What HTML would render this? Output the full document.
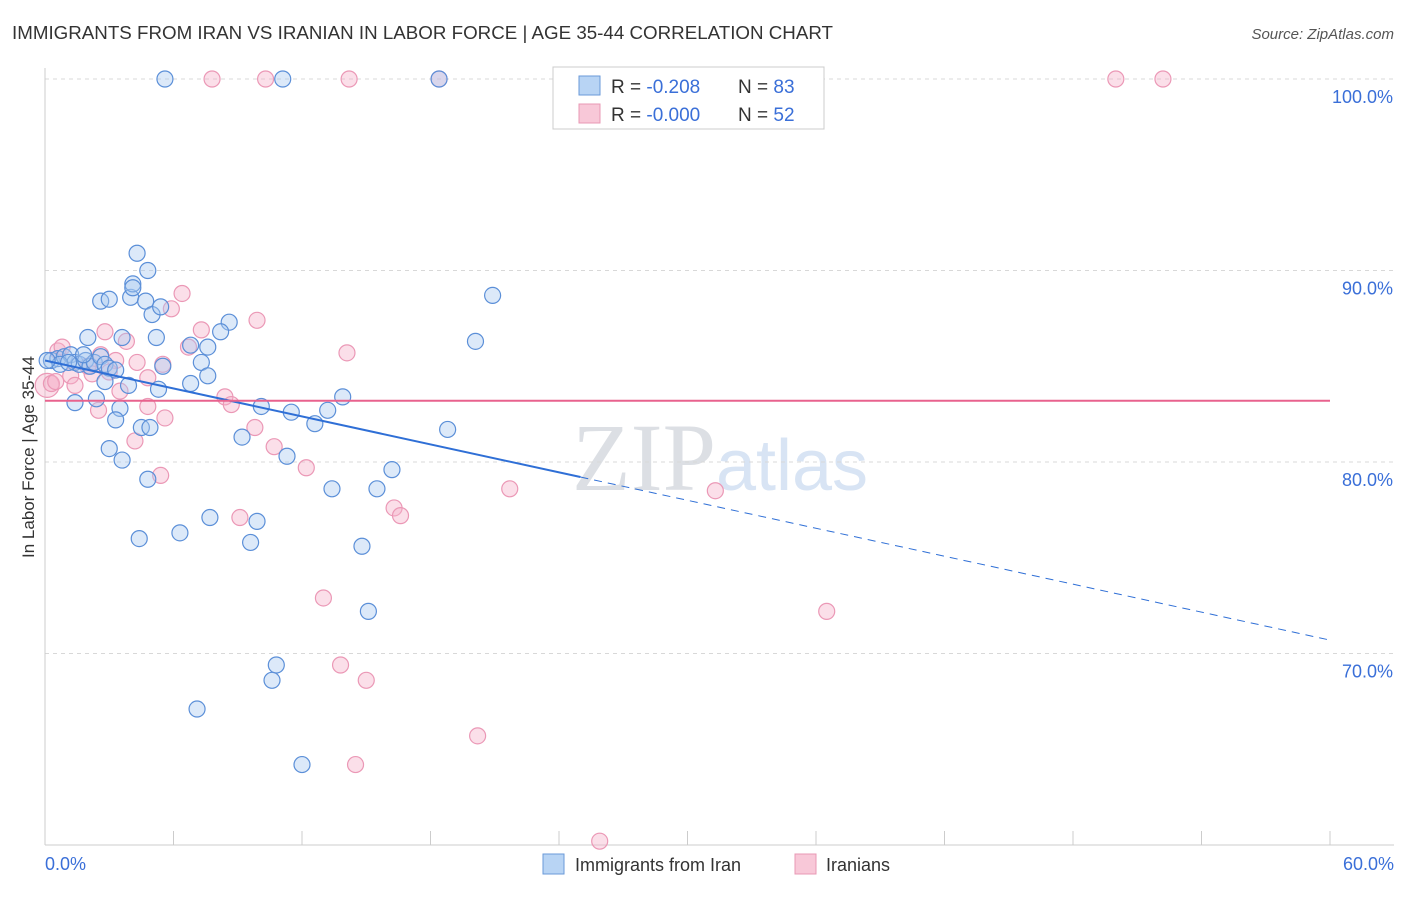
<!DOCTYPE html>
<html><head><meta charset="utf-8">
<style>
body{margin:0;background:#fff;font-family:"Liberation Sans",sans-serif;}
svg text{font-family:"Liberation Sans",sans-serif;}
</style></head>
<body>
<svg id="chart" width="1406" height="892" viewBox="0 0 1406 892" xmlns="http://www.w3.org/2000/svg">
<text x="12" y="39" font-size="18" fill="#333" textLength="821" lengthAdjust="spacingAndGlyphs">IMMIGRANTS FROM IRAN VS IRANIAN IN LABOR FORCE | AGE 35-44 CORRELATION CHART</text>
<text x="1394" y="39" font-size="15" fill="#555" font-style="italic" text-anchor="end">Source: ZipAtlas.com</text>
<text x="720" y="490" font-size="96" fill="#e4e8ee" text-anchor="middle" font-family="Liberation Serif"><tspan font-family="Liberation Serif" fill="#dcdfe4">ZIP</tspan><tspan font-family="Liberation Sans" fill="#d8e4f4" font-size="72">atlas</tspan></text>
<g id="grid"></g>
<g id="axes"></g>
<g id="pts"></g>
<g id="trend"></g>
<text transform="translate(34,457) rotate(-90)" font-size="17" fill="#333" text-anchor="middle">In Labor Force | Age 35-44</text>
<text x="45" y="870" font-size="18" fill="#3a6fd8">0.0%</text>
<text x="1394" y="870" font-size="18" fill="#3a6fd8" text-anchor="end">60.0%</text>
<g>
<rect x="553" y="67" width="271" height="62" fill="#fff" stroke="#ccc"/>
<rect x="579" y="76" width="21" height="19" fill="#b8d4f4" stroke="#6a9ad8"/>
<rect x="579" y="104" width="21" height="19" fill="#f8c8d8" stroke="#e898b4"/>
<text x="611" y="93" font-size="19" fill="#333">R = <tspan fill="#3a6fd8">-0.208</tspan></text>
<text x="738" y="93" font-size="19" fill="#333">N = <tspan fill="#3a6fd8">83</tspan></text>
<text x="611" y="121" font-size="19" fill="#333">R = <tspan fill="#3a6fd8">-0.000</tspan></text>
<text x="738" y="121" font-size="19" fill="#333">N = <tspan fill="#3a6fd8">52</tspan></text>
</g>
<g>
<rect x="543" y="854" width="21" height="20" fill="#b8d4f4" stroke="#6a9ad8"/>
<text x="575" y="871" font-size="18" fill="#333">Immigrants from Iran</text>
<rect x="795" y="854" width="21" height="20" fill="#f8c8d8" stroke="#e898b4"/>
<text x="826" y="871" font-size="18" fill="#333">Iranians</text>
</g>
</svg>
<script>
const yTicks=[100,90,80,70];
const yTickLabels=["100.0%","90.0%","80.0%","70.0%"];
const xTicks=[0,6,12,18,24,30,36,42,48,54,60];
const blueX=[5.6,11.1,18.4,4.3,4.8,2.6,3.0,4.0,4.1,4.1,4.7,5.0,5.4,2.0,3.6,5.2,8.6,8.2,7.6,6.8,20.9,20.1,0.3,0.6,0.9,1.2,1.4,1.6,1.9,2.1,2.3,2.6,2.8,3.0,3.3,0.7,0.1,5.5,7.3,7.6,6.8,3.9,2.8,5.3,1.4,2.4,3.5,3.3,4.5,4.9,10.1,11.5,12.6,13.2,13.9,9.2,11.3,3.0,3.6,18.8,16.2,15.5,13.4,4.8,7.7,9.9,6.3,4.4,9.6,14.8,15.1,10.8,10.6,7.1,12.0,1.1,1.8];
const blueY=[100,100,100,90.9,90.0,88.4,88.5,88.6,89.3,89.1,88.4,87.7,88.1,86.5,86.5,86.5,87.3,86.8,86.0,86.1,88.7,86.3,85.3,85.4,85.5,85.6,85.2,85.1,85.3,85.0,85.2,85.5,85.1,84.9,84.8,85.1,85.3,85.0,85.2,84.5,84.1,84.0,84.2,83.8,83.1,83.3,82.8,82.2,81.8,81.8,82.9,82.6,82.0,82.7,83.4,81.3,80.3,80.7,80.1,81.7,79.6,78.6,78.6,79.1,77.1,76.9,76.3,76.0,75.8,75.6,72.2,69.4,68.6,67.1,64.2,85.2,85.6];
const pinkX=[7.8,10.3,14.2,18.4,50.0,52.2,6.4,5.9,9.9,7.3,6.7,2.8,3.8,14.1,0.6,0.8,3.3,4.3,5.5,2.0,2.2,4.8,3.0,1.2,1.4,3.5,8.4,8.7,2.5,4.8,5.6,9.8,4.2,10.7,12.2,5.4,21.7,31.3,16.3,16.6,9.1,36.5,13.0,13.8,15.0,20.2,14.5,25.9,0.1,0.3,2.6,0.5];
const pinkY=[100,100,100,100,100,100,88.8,88.0,87.4,86.9,86.0,86.8,86.3,85.7,85.8,86.0,85.3,85.2,85.1,85.0,84.6,84.4,84.7,84.5,84.0,83.7,83.4,83.0,82.7,82.9,82.3,81.8,81.1,80.8,79.7,79.3,78.6,78.5,77.6,77.2,77.1,72.2,72.9,69.4,68.6,65.7,64.2,60.2,84.0,84.1,85.6,84.2];
const blueTrend=[85.3,70.7];
const pinkTrend=[83.2,83.2];
const NS="http://www.w3.org/2000/svg";
const X=v=>45+v*(1285/60);
const Y=v=>79+(100-v)*19.15;
function mk(t,a,p){const e=document.createElementNS(NS,t);for(const k in a)e.setAttribute(k,a[k]);p.appendChild(e);return e;}
const grid=document.getElementById('grid'),axes=document.getElementById('axes'),pts=document.getElementById('pts'),tr=document.getElementById('trend');
yTicks.forEach((t,i)=>{
 const l=mk('line',{x1:45,x2:1394,y1:Y(t),y2:Y(t),stroke:'#d8d8d8','stroke-dasharray':'4,4'},grid);
 
 
 const tx=mk('text',{x:1393,y:Y(t)+24,'font-size':18,fill:'#3a6fd8','text-anchor':'end'},grid);
 tx.textContent=yTickLabels[i];
 
 
});
const ya=mk('line',{x1:45,x2:45,y1:68,y2:845,stroke:'#ccc'},axes);


const xa=mk('line',{x1:45,x2:1394,y1:845,y2:845,stroke:'#ccc'},axes);


xTicks.forEach(t=>{
 const l=mk('line',{x1:X(t),x2:X(t),y1:831,y2:845,stroke:'#ccc'},axes);
 
 
});
pinkX.forEach((v,i)=>{
 const c=mk('circle',{cx:X(v),cy:Y(pinkY[i]),r:(i==48?12:8),fill:'rgba(245,176,200,0.4)',stroke:'#eb98b6','stroke-width':1.2},pts);
 
 
});
blueX.forEach((v,i)=>{
 const c=mk('circle',{cx:X(v),cy:Y(blueY[i]),r:8,fill:'rgba(168,200,240,0.4)',stroke:'#5b8fd8','stroke-width':1.2},pts);
 
 
});
const bAt=x=>blueTrend[0]+(blueTrend[1]-blueTrend[0])*x/60;
const b1=mk('line',{x1:X(0),y1:Y(bAt(0)),x2:X(25),y2:Y(bAt(25)),stroke:'#2f6fd6','stroke-width':2},tr);


const b2=mk('line',{x1:X(25),y1:Y(bAt(25)),x2:X(60),y2:Y(bAt(60)),stroke:'#2f6fd6','stroke-width':1,'stroke-dasharray':'8,6'},tr);


const p1=mk('line',{x1:X(0),y1:Y(pinkTrend[0]),x2:X(60),y2:Y(pinkTrend[1]),stroke:'#e8628e','stroke-width':2},tr);


</script>
</body></html>
